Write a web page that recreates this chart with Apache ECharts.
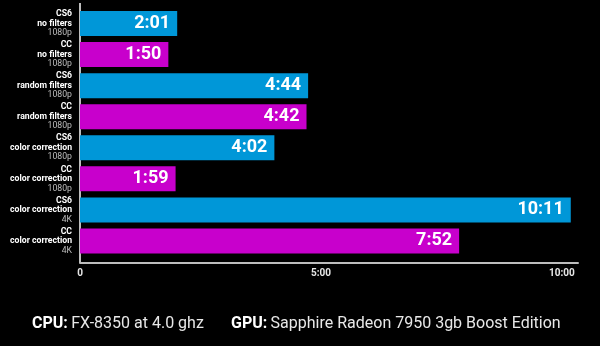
<!DOCTYPE html>
<html>
<head>
<meta charset="utf-8">
<script src="https://cdn.jsdelivr.net/npm/echarts@6/dist/echarts.min.js"></script>
<style>html,body{margin:0;padding:0;background:#000;}#c{width:600px;height:346px;}</style>
</head>
<body>
<div id="c"></div>
<script>
// Data
var versions = ['CS6', 'CC', 'CS6', 'CC', 'CS6', 'CC', 'CS6', 'CC'];
var tests = ['no filters', 'no filters', 'random filters', 'random filters', 'color correction', 'color correction', 'color correction', 'color correction'];
var resolutions = ['1080p', '1080p', '1080p', '1080p', '1080p', '1080p', '4K', '4K'];
var renderSeconds = [121, 110, 284, 282, 242, 119, 611, 472]; // 2:01, 1:50, 4:44, 4:42, 4:02, 1:59, 10:11, 7:52
var tickValues = [0, 300, 600];
var tickLabels = ['0', '5:00', '10:00'];
var footerCPU = ['CPU:', 'FX-8350 at 4.0 ghz'];
var footerGPU = ['GPU:', 'Sapphire Radeon 7950 3gb Boost Edition'];

var colors = { 'CS6': '#0097d8', 'CC': '#c800cc' };

function fmt(s) {
  var m = Math.floor(s / 60), r = s % 60;
  return m + ':' + (r < 10 ? '0' : '') + r;
}

var cats = versions.map(function (v, i) { return i; });

var chart = echarts.init(document.getElementById('c'), null, { renderer: 'canvas' });
chart.setOption({
  backgroundColor: '#000000',
  animation: false,
  grid: { left: 80, right: 22, top: 8, height: 248.5, containLabel: false },
  xAxis: {
    type: 'value', min: 0, max: 620, interval: 300, offset: 6,
    axisLine: { show: true, lineStyle: { color: '#bdbdbd', width: 2 } },
    axisTick: { show: false },
    splitLine: { show: false },
    axisLabel: {
      color: '#e6e6e6', fontFamily: 'Roboto', fontWeight: 'bold', fontSize: 10, margin: 6,
      showMaxLabel: false,
      formatter: function (v) {
        var i = tickValues.indexOf(v);
        return i >= 0 ? tickLabels[i] : '';
      }
    }
  },
  yAxis: {
    type: 'category', data: cats, inverse: true,
    axisLine: { show: false }, axisTick: { show: false },
    axisLabel: {
      margin: 8, align: 'right', lineHeight: 9.5,
      formatter: function (v, i) {
        return '{a|' + versions[i] + '}\n{b|' + tests[i] + '}\n{c|' + resolutions[i] + '}';
      },
      rich: {
        a: { color: '#ffffff', fontFamily: 'Roboto', fontWeight: 'bold', fontSize: 8.7, lineHeight: 9.5, align: 'right' },
        b: { color: '#ffffff', fontFamily: 'Roboto', fontWeight: 'bold', fontSize: 8.7, lineHeight: 9.5, align: 'right' },
        c: { color: '#bdbdbd', fontFamily: 'Roboto', fontSize: 8.7, lineHeight: 9.5, align: 'right' }
      }
    }
  },
  series: [{
    type: 'bar',
    barWidth: 25,
    data: renderSeconds.map(function (s, i) {
      return { value: s, itemStyle: { color: colors[versions[i]] } };
    }),
    label: {
      show: true, position: 'insideRight', distance: 7,
      color: '#ffffff', fontFamily: 'Roboto', fontWeight: 'bold', fontSize: 18,
      formatter: function (p) { return fmt(p.value); }
    }
  }],
  graphic: [
    { type: 'line', shape: { x1: 80, y1: 3, x2: 80, y2: 263 }, style: { stroke: '#bdbdbd', lineWidth: 2 } },
    { type: 'text', left: 32, top: 316, style: {
      text: '{b|' + footerCPU[0] + '} {n|' + footerCPU[1] + '}',
      rich: {
        b: { fill: '#ffffff', fontFamily: 'Roboto', fontWeight: 'bold', fontSize: 16 },
        n: { fill: '#e8e8e8', fontFamily: 'Roboto', fontSize: 16 }
      }
    } },
    { type: 'text', left: 231, top: 316, style: {
      text: '{b|' + footerGPU[0] + '} {n|' + footerGPU[1] + '}',
      rich: {
        b: { fill: '#ffffff', fontFamily: 'Roboto', fontWeight: 'bold', fontSize: 16 },
        n: { fill: '#e8e8e8', fontFamily: 'Roboto', fontSize: 16 }
      }
    } }
  ]
});
</script>
</body>
</html>
